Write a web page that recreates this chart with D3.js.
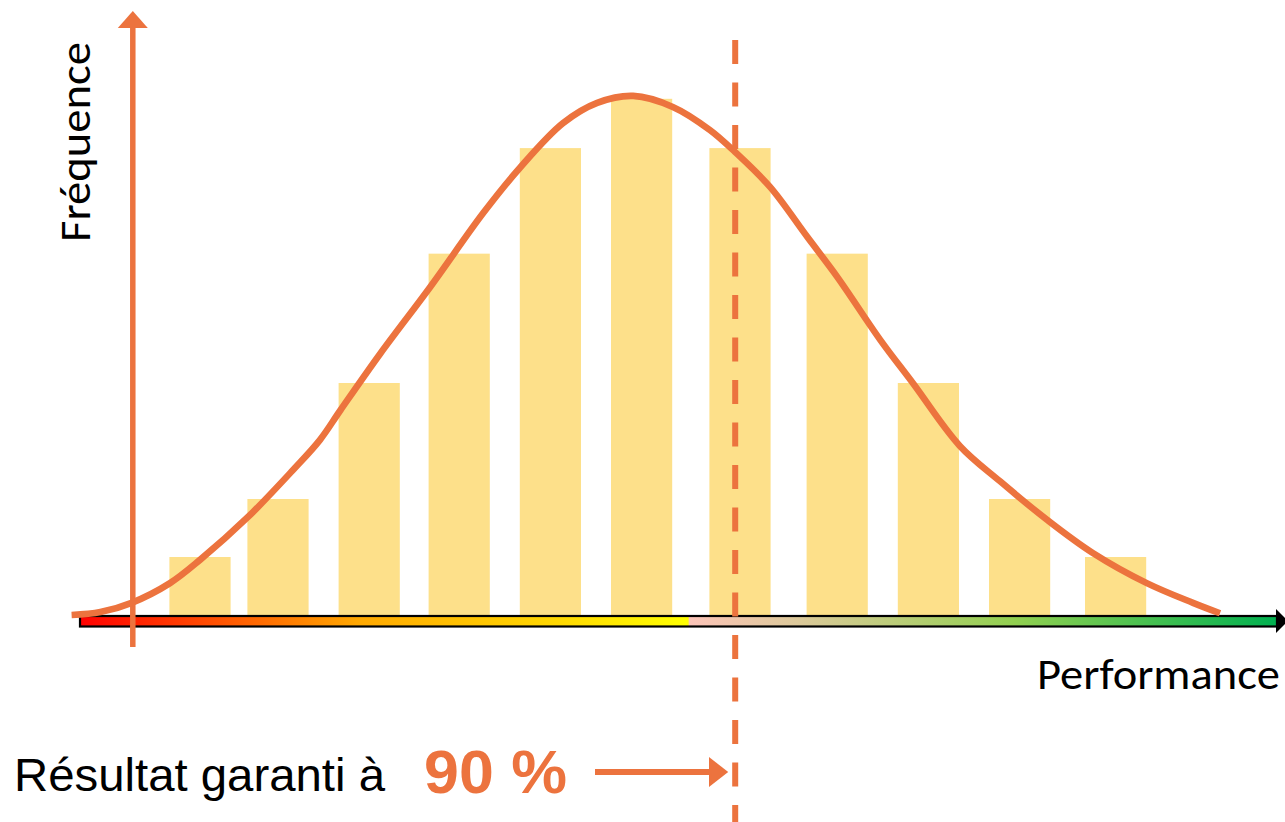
<!DOCTYPE html>
<html>
<head>
<meta charset="utf-8">
<script src="https://cdn.jsdelivr.net/npm/d3@7"></script>
<style>
  html, body { margin: 0; padding: 0; background: #fff; }
  svg { display: block; }
</style>
</head>
<body>
<svg id="chart" width="1285" height="822"></svg>
<script>
// ---- data ----
// bin centres on the performance axis (0-100) and their frequencies
const binPerformance = [10.0, 16.5, 24.1, 31.6, 39.2, 46.8, 55.0, 63.1, 70.7, 78.3, 86.3];
const binFrequency   = [1.0, 2.0, 4.0, 6.23, 8.05, 8.9, 8.05, 6.23, 4.0, 2.0, 1.0];
const binWidth = 5.1; // in performance units

// fitted distribution curve (performance, frequency)
const curvePerformance = [-0.7, 1.7, 4.3, 7.5, 10.0, 14.0, 17.75, 20.0, 21.7, 25.0, 29.2, 33.6, 36.7, 40.25, 43.1, 46.1, 49.4, 52.5, 54.6, 57.5, 60.6, 63.1, 66.7, 69.4, 73.3, 76.7, 80.6, 84.4, 88.9, 92.75, 95.0];
const curveFrequency   = [0.0, 0.05, 0.21, 0.55, 0.95, 1.69, 2.5, 3.02, 3.53, 4.5, 5.66, 6.93, 7.72, 8.48, 8.83, 8.95, 8.76, 8.36, 7.98, 7.38, 6.52, 5.83, 4.74, 4.0, 2.92, 2.3, 1.64, 1.07, 0.55, 0.21, 0.03];

const threshold = 54.6;          // 90 % guaranteed result
const yAxisAt = 4.4;             // performance value where the frequency axis stands

const yLabel = "Fréquence";
const xLabel = "Performance";
const noteText = "Résultat garanti à";
const noteValue = "90 %";

// ---- drawing ----
const ORANGE = "#ec733e";
const BAR = "#fde08a";

const svg = d3.select("#chart");
const x = d3.scaleLinear().domain([0, 100]).range([80, 1280]);
const y = d3.scaleLinear().domain([0, 10]).range([615, 35]);

// gradient for the performance axis
const defs = svg.append("defs");
const grad = defs.append("linearGradient").attr("id", "perfGrad")
  .attr("x1", "0%").attr("x2", "100%").attr("y1", "0%").attr("y2", "0%");
[[0, "#ff0000"], [0.15, "#ff6a00"], [0.233, "#ffa800"], [0.4, "#ffd800"], [0.508, "#ffff00"],
 [0.509, "#fcc4b8"], [0.6, "#dcc99a"], [0.78, "#92d050"], [1, "#00b050"]]
  .forEach(([o, c]) => grad.append("stop").attr("offset", o).attr("stop-color", c));

// bars
svg.append("g").selectAll("rect")
  .data(binPerformance.map((p, i) => ({p, f: binFrequency[i]})))
  .join("rect")
  .attr("x", d => x(d.p - binWidth / 2))
  .attr("width", x(binWidth) - x(0))
  .attr("y", d => y(d.f))
  .attr("height", d => y(0) - y(d.f))
  .attr("fill", BAR);

// performance axis: gradient bar with black outline and arrow head
svg.append("rect")
  .attr("x", x(0)).attr("y", y(0) + 1)
  .attr("width", x(100) - x(0) - 3).attr("height", 10.5)
  .attr("fill", "url(#perfGrad)")
  .attr("stroke", "#000").attr("stroke-width", 2.2);
svg.append("path")
  .attr("d", `M${x(100) - 4},${y(0) - 6} L${x(100) + 8},${y(0) + 6} L${x(100) - 4},${y(0) + 18} Z`)
  .attr("fill", "#000");

// frequency axis (orange arrow)
svg.append("line")
  .attr("x1", x(yAxisAt)).attr("x2", x(yAxisAt))
  .attr("y1", 647).attr("y2", 26)
  .attr("stroke", ORANGE).attr("stroke-width", 5.5);
svg.append("path")
  .attr("d", `M${x(yAxisAt) - 15},28 L${x(yAxisAt)},11 L${x(yAxisAt) + 15},28 Z`)
  .attr("fill", ORANGE);

// distribution curve
const line = d3.line()
  .x(d => x(d[0])).y(d => y(d[1]))
  .curve(d3.curveCatmullRom.alpha(0.5));
svg.append("path")
  .datum(curvePerformance.map((p, i) => [p, curveFrequency[i]]))
  .attr("d", line)
  .attr("fill", "none")
  .attr("stroke", ORANGE)
  .attr("stroke-width", 6.6);

// threshold dashed line
svg.append("line")
  .attr("x1", x(threshold)).attr("x2", x(threshold))
  .attr("y1", 40).attr("y2", 822)
  .attr("stroke", ORANGE).attr("stroke-width", 6)
  .attr("stroke-dasharray", "24 18.5");

// labels
svg.append("text")
  .attr("transform", "translate(90,242) rotate(-90)")
  .attr("font-family", "Carlito, Calibri, Lato, sans-serif")
  .attr("font-size", 43)
  .attr("textLength", 200).attr("lengthAdjust", "spacingAndGlyphs")
  .attr("fill", "#000")
  .text(yLabel);

svg.append("text")
  .attr("x", 1037).attr("y", 689)
  .attr("font-family", "Carlito, Calibri, Lato, sans-serif")
  .attr("font-size", 43)
  .attr("textLength", 243).attr("lengthAdjust", "spacingAndGlyphs")
  .attr("fill", "#000")
  .text(xLabel);

svg.append("text")
  .attr("x", 14).attr("y", 791)
  .attr("font-family", "Arial, 'Liberation Sans', sans-serif")
  .attr("font-size", 46)
  .attr("textLength", 371).attr("lengthAdjust", "spacingAndGlyphs")
  .attr("fill", "#000")
  .text(noteText);

svg.append("text")
  .attr("x", 424).attr("y", 793)
  .attr("font-family", "Arial, 'Liberation Sans', sans-serif")
  .attr("font-size", 61).attr("font-weight", "bold")
  .attr("textLength", 143).attr("lengthAdjust", "spacingAndGlyphs")
  .attr("fill", ORANGE)
  .text(noteValue);

// pointer arrow to the threshold
svg.append("line")
  .attr("x1", 595).attr("x2", 712)
  .attr("y1", 772).attr("y2", 772)
  .attr("stroke", ORANGE).attr("stroke-width", 6);
svg.append("path")
  .attr("d", `M709,757 L${x(threshold) - 7},772 L709,787 Z`)
  .attr("fill", ORANGE);
</script>
</body>
</html>
